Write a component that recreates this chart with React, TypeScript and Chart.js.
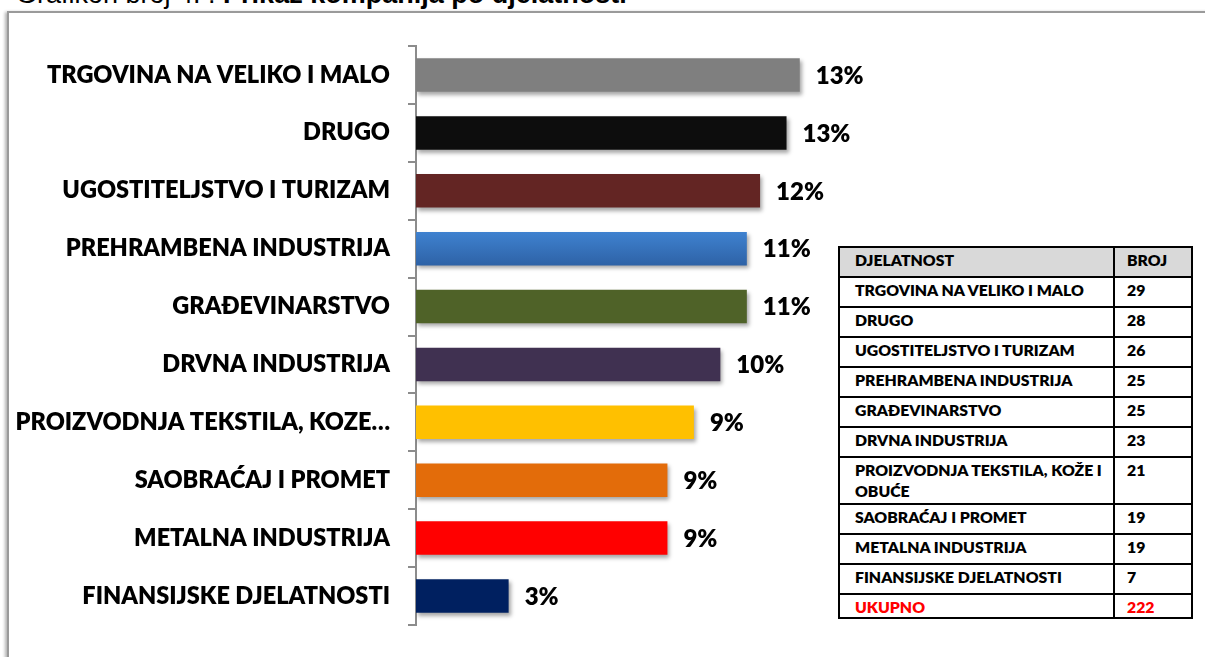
import React, { useEffect, useRef } from "react";
import { Chart, registerables } from "chart.js";

Chart.register(...registerables);

const categories = [
  "TRGOVINA NA VELIKO I MALO",
  "DRUGO",
  "UGOSTITELJSTVO I TURIZAM",
  "PREHRAMBENA INDUSTRIJA",
  "GRAĐEVINARSTVO",
  "DRVNA INDUSTRIJA",
  "PROIZVODNJA TEKSTILA, KOŽE I OBUĆE",
  "SAOBRAĆAJ I PROMET",
  "METALNA INDUSTRIJA",
  "FINANSIJSKE DJELATNOSTI",
];

const axisLabels = [
  "TRGOVINA NA VELIKO I MALO",
  "DRUGO",
  "UGOSTITELJSTVO I TURIZAM",
  "PREHRAMBENA INDUSTRIJA",
  "GRAĐEVINARSTVO",
  "DRVNA INDUSTRIJA",
  "PROIZVODNJA TEKSTILA, KOZE…",
  "SAOBRAĆAJ I PROMET",
  "METALNA INDUSTRIJA",
  "FINANSIJSKE DJELATNOSTI",
];

const counts = [29, 28, 26, 25, 25, 23, 21, 19, 19, 7];

const percentLabels = ["13%", "13%", "12%", "11%", "11%", "10%", "9%", "9%", "9%", "3%"];

const barColors = [
  "#7f7f7f",
  "#0d0d0d",
  "#632523",
  "#3b7bc8",
  "#4f6228",
  "#403151",
  "#ffc000",
  "#e36c0a",
  "#ff0000",
  "#002060",
];

const blueGradient = ["#3f82d0", "#2e62a6"];

const tableHeader = ["DJELATNOST", "BROJ"];
const totalLabel = "UKUPNO";
const totalCount = 222;

const titleNormal = "Grafikon broj 4. : ";
const titleBold = "Prikaz kompanija po djelatnosti";

const xMax = 30;

const FONT = "Lato, 'Open Sans', sans-serif";

function BarChart() {
  const ref = useRef<HTMLCanvasElement | null>(null);
  useEffect(() => {
    if (!ref.current) return;
    const shadowPlugin = {
      id: "barShadow",
      beforeDatasetsDraw(chart: any) {
        const ctx = chart.ctx;
        ctx.save();
        ctx.shadowColor = "rgba(0,0,0,0.35)";
        ctx.shadowBlur = 4;
        ctx.shadowOffsetX = 2;
        ctx.shadowOffsetY = 3;
      },
      afterDatasetsDraw(chart: any) {
        chart.ctx.restore();
      },
    };
    const labelPlugin = {
      id: "pctLabels",
      afterDraw(chart: any) {
        const ctx = chart.ctx;
        const meta = chart.getDatasetMeta(0);
        ctx.save();
        ctx.font = `800 24px ${FONT}`;
        ctx.fillStyle = "#000";
        ctx.textAlign = "left";
        ctx.textBaseline = "middle";
        meta.data.forEach((bar: any, i: number) => {
          ctx.fillText(percentLabels[i], bar.x + 16, bar.y + 1);
        });
        ctx.restore();
      },
    };
    const bg = (c: any) => {
      const i = c.dataIndex;
      const base = barColors[i];
      if (i !== 3) return base;
      const chart = c.chart;
      const ys = chart.scales && chart.scales.y;
      if (!ys || !chart.chartArea) return base;
      const y = ys.getPixelForValue(i);
      const g = chart.ctx.createLinearGradient(0, y - 17, 0, y + 17);
      g.addColorStop(0, blueGradient[0]);
      g.addColorStop(1, blueGradient[1]);
      return g;
    };
    const chart = new Chart(ref.current, {
      type: "bar",
      data: {
        labels: axisLabels,
        datasets: [
          {
            data: counts,
            backgroundColor: bg,
            borderWidth: 0,
            categoryPercentage: 1,
            barPercentage: 0.58,
          },
        ],
      },
      options: {
        indexAxis: "y",
        responsive: false,
        animation: false,
        layout: { padding: { top: 27, bottom: 29, right: 97, left: 0 } },
        plugins: { legend: { display: false }, tooltip: { enabled: false }, title: { display: false } },
        scales: {
          x: { display: false, min: 0, max: xMax },
          y: {
            afterFit(scale: any) {
              scale.width = 406;
            },
            grid: {
              drawOnChartArea: false,
              drawTicks: true,
              tickLength: 8,
              color: "#8c8c8c",
              lineWidth: 2,
              offset: true,
            },
            border: { display: true, color: "#8c8c8c", width: 2 },
            ticks: {
              color: "#000",
              padding: 18,
              font: { family: FONT, weight: "800", size: 23.5 },
              autoSkip: false,
            },
          },
        },
      },
      plugins: [shadowPlugin, labelPlugin],
    } as any);
    return () => chart.destroy();
  }, []);
  return (
    <canvas
      ref={ref}
      width={900}
      height={643}
      style={{ position: "absolute", left: 10, top: 14, width: 900, height: 643 }}
    />
  );
}

const rowHeights = [30, 30, 30, 30, 30, 30, 30, 47, 30, 30, 30, 24];

function DataTable() {
  const rows: { label: string; value: string; header?: boolean; total?: boolean }[] = [
    { label: tableHeader[0], value: tableHeader[1], header: true },
    ...categories.map((c, i) => ({ label: c, value: String(counts[i]) })),
    { label: totalLabel, value: String(totalCount), total: true },
  ];
  return (
    <div
      style={{
        position: "absolute",
        left: 838,
        top: 246,
        width: 355,
        border: "2px solid #000",
        boxSizing: "border-box",
        fontFamily: FONT,
        fontWeight: 800,
        fontSize: 15.8,
        lineHeight: "21px",
        background: "#fff",
      }}
    >
      {rows.map((r, i) => (
        <div
          key={i}
          style={{
            display: "flex",
            height: rowHeights[i] - (i === 0 ? 2 : 0),
            borderTop: i === 0 ? "none" : "2px solid #000",
            boxSizing: "border-box",
            background: r.header ? "#d9d9d9" : "#fff",
            color: r.total ? "#ff0000" : "#000",
          }}
        >
          <div
            style={{
              width: 275,
              boxSizing: "border-box",
              borderRight: "2px solid #000",
              paddingLeft: 15,
              paddingTop: 1,
              paddingRight: 6,
            }}
          >
            {r.label}
          </div>
          <div style={{ flex: 1, paddingLeft: 12, paddingTop: 1 }}>{r.value}</div>
        </div>
      ))}
    </div>
  );
}

export default function App() {
  return (
    <div
      style={{
        position: "absolute",
        left: 0,
        top: 0,
        width: 1205,
        height: 657,
        overflow: "hidden",
        background: "#fff",
      }}
    >
      <div
        style={{
          position: "absolute",
          left: 16,
          top: -19,
          fontFamily: "'Liberation Sans', Arial, sans-serif",
          fontSize: 27,
          lineHeight: "27px",
          whiteSpace: "nowrap",
          color: "#000",
        }}
      >
        {titleNormal}
        <b>{titleBold}</b>
      </div>
      <div
        style={{
          position: "absolute",
          left: 7,
          top: 11,
          width: 1300,
          height: 800,
          border: "2px solid #9a9a9a",
          boxShadow: "-2px 1px 3px rgba(0,0,0,0.3)",
          background: "#fff",
        }}
      />
      <BarChart />
      <DataTable />
    </div>
  );
}
